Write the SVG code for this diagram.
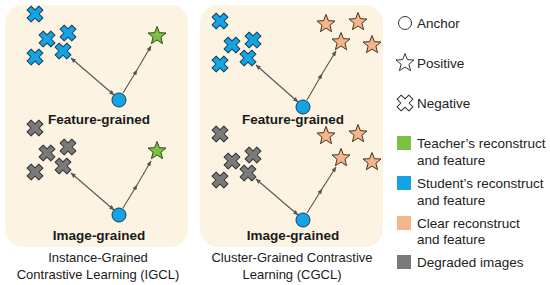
<svg xmlns="http://www.w3.org/2000/svg" width="550" height="285" viewBox="0 0 550 285">
<style>
.panel{fill:#FCF3E2;stroke:none}
.lbl{font-family:"Liberation Sans",Arial,sans-serif;font-size:13.5px;font-weight:bold;fill:#1a1a1a;text-anchor:middle}
.ttl{font-family:"Liberation Sans",Arial,sans-serif;font-size:13px;fill:#1a1a1a;text-anchor:middle}
.leg{font-family:"Liberation Sans",Arial,sans-serif;font-size:13.5px;fill:#222}
.blue{fill:#12A4E4;stroke:#1d3c55;stroke-width:1}
.gray{fill:#7A7A7A;stroke:#333;stroke-width:1}
.green{fill:#7BC142;stroke:#2f4a1a;stroke-width:1}
.orange{fill:#F5B58A;stroke:#4a3020;stroke-width:1}
.outline{fill:#fff;stroke:#333;stroke-width:1}
.conn{stroke:#555;stroke-width:1.1;fill:none}
</style>
<defs>
<path id="x" transform="rotate(45)" d="M-2.9,-8.3 H2.9 V-2.9 H8.3 V2.9 H2.9 V8.3 H-2.9 V2.9 H-8.3 V-2.9 H-2.9 Z" stroke-linejoin="round"/>
<path id="s" d="M0,-9.5 L2.4,-3.3 L9,-3 L3.9,1.3 L5.6,7.7 L0,4 L-5.6,7.7 L-3.9,1.3 L-9,-3 L-2.4,-3.3 Z" stroke-linejoin="round"/>
<marker id="ah" viewBox="0 0 10 10" refX="9" refY="5" markerWidth="5" markerHeight="5" orient="auto-start-reverse">
<path d="M0,1 L10,5 L0,9 Z" fill="#555"/>
</marker>
</defs>

<rect class="panel" x="5" y="5" width="183" height="242" rx="18"/>
<rect class="panel" x="200" y="5" width="183" height="242" rx="18"/>

<g id="connectors">
<line class="conn" x1="114" y1="95" x2="71" y2="58" marker-start="url(#ah)" marker-end="url(#ah)"/>
<polyline class="conn" points="123,93 137,70 151,46" marker-mid="url(#ah)" marker-end="url(#ah)"/>
<line class="conn" x1="114" y1="210" x2="71" y2="173" marker-start="url(#ah)" marker-end="url(#ah)"/>
<polyline class="conn" points="123,208 137,185 151,161" marker-mid="url(#ah)" marker-end="url(#ah)"/>
<line class="conn" x1="298" y1="102" x2="256" y2="65" marker-start="url(#ah)" marker-end="url(#ah)"/>
<polyline class="conn" points="307,100 322,74 336,51" marker-mid="url(#ah)" marker-end="url(#ah)"/>
<line class="conn" x1="298" y1="215" x2="256" y2="179" marker-start="url(#ah)" marker-end="url(#ah)"/>
<polyline class="conn" points="307,213 322,189 336,167" marker-mid="url(#ah)" marker-end="url(#ah)"/>
</g>

<g id="igcl-feature">
<use href="#x" class="blue" x="35" y="14"/>
<use href="#x" class="blue" x="47" y="39"/>
<use href="#x" class="blue" x="68" y="33"/>
<use href="#x" class="blue" x="35" y="57"/>
<use href="#x" class="blue" x="63" y="51"/>
<use href="#s" class="green" x="157" y="36"/>
<circle class="blue" cx="119" cy="100" r="7"/>
<text class="lbl" x="99" y="124">Feature-grained</text>
</g>

<g id="igcl-image">
<use href="#x" class="gray" x="35" y="128"/>
<use href="#x" class="gray" x="47" y="153"/>
<use href="#x" class="gray" x="68" y="147"/>
<use href="#x" class="gray" x="35" y="172"/>
<use href="#x" class="gray" x="63" y="166"/>
<use href="#s" class="green" x="157" y="151"/>
<circle class="blue" cx="119" cy="215" r="7"/>
<text class="lbl" x="99" y="240">Image-grained</text>
</g>

<g id="igcl-title">
<text class="ttl" x="98" y="262">Instance-Grained</text>
<text class="ttl" x="98" y="279">Contrastive Learning (IGCL)</text>
</g>

<g id="cgcl-feature">
<use href="#x" class="blue" x="220" y="21"/>
<use href="#x" class="blue" x="232" y="45"/>
<use href="#x" class="blue" x="253" y="40"/>
<use href="#x" class="blue" x="220" y="64"/>
<use href="#x" class="blue" x="248" y="58"/>
<use href="#s" class="orange" x="326" y="24"/>
<use href="#s" class="orange" x="358" y="22"/>
<use href="#s" class="orange" x="341" y="42"/>
<use href="#s" class="orange" x="372" y="45"/>
<circle class="blue" cx="303" cy="107" r="7"/>
<text class="lbl" x="293" y="124">Feature-grained</text>
</g>

<g id="cgcl-image">
<use href="#x" class="gray" x="220" y="134"/>
<use href="#x" class="gray" x="232" y="161"/>
<use href="#x" class="gray" x="253" y="155"/>
<use href="#x" class="gray" x="220" y="180"/>
<use href="#x" class="gray" x="248" y="173"/>
<use href="#s" class="orange" x="326" y="136"/>
<use href="#s" class="orange" x="358" y="134"/>
<use href="#s" class="orange" x="341" y="158"/>
<use href="#s" class="orange" x="372" y="162"/>
<circle class="blue" cx="303" cy="220" r="7"/>
<text class="lbl" x="293" y="240">Image-grained</text>
</g>

<g id="cgcl-title">
<text class="ttl" x="292" y="262">Cluster-Grained Contrastive</text>
<text class="ttl" x="292" y="279">Learning (CGCL)</text>
</g>

<g id="legend">
<circle class="outline" cx="405" cy="23" r="6.5"/>
<text class="leg" x="417" y="28">Anchor</text>
<use href="#s" class="outline" x="405" y="63"/>
<text class="leg" x="417" y="68">Positive</text>
<use href="#x" class="outline" x="405" y="103"/>
<text class="leg" x="417" y="108">Negative</text>
<rect x="397" y="136" width="14" height="14" fill="#7BC142"/>
<text class="leg" x="417" y="148">Teacher’s reconstruct</text>
<text class="leg" x="417" y="165">and feature</text>
<rect x="397" y="176" width="14" height="14" fill="#12A4E4"/>
<text class="leg" x="417" y="188">Student’s reconstruct</text>
<text class="leg" x="417" y="205">and feature</text>
<rect x="397" y="216" width="14" height="14" fill="#F5B58A"/>
<text class="leg" x="417" y="228">Clear reconstruct</text>
<text class="leg" x="417" y="244">and feature</text>
<rect x="397" y="255" width="14" height="14" fill="#7A7A7A"/>
<text class="leg" x="417" y="267">Degraded images</text>
</g>
</svg>
